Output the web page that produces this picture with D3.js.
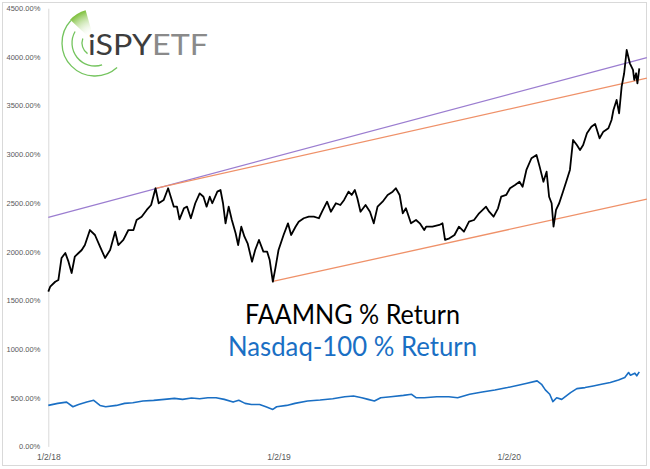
<!DOCTYPE html>
<html>
<head>
<meta charset="utf-8">
<script src="https://cdn.jsdelivr.net/npm/d3@7"></script>
<style>
  body { margin: 0; background: #fff; }
  text { font-family: "Liberation Sans", Arial, sans-serif; }
</style>
</head>
<body>
<svg id="chart" width="650" height="469"></svg>
<script>
// FAAMNG cumulative % return
const faamngDates = [
  "2018-01-02","2018-01-05","2018-01-13","2018-01-18","2018-01-23","2018-01-29","2018-02-03","2018-02-08",
  "2018-02-13","2018-02-19","2018-02-24","2018-03-01","2018-03-09","2018-03-17","2018-03-25","2018-04-02",
  "2018-04-10","2018-04-18","2018-04-23","2018-05-01","2018-05-09","2018-05-17","2018-05-22","2018-05-30",
  "2018-06-07","2018-06-14","2018-06-21","2018-06-26","2018-07-04","2018-07-11","2018-07-20","2018-07-25",
  "2018-07-29","2018-08-05","2018-08-10","2018-08-16","2018-08-23","2018-08-30","2018-09-05","2018-09-10",
  "2018-09-15","2018-09-19","2018-09-27","2018-10-02","2018-10-06","2018-10-10","2018-10-15","2018-10-20",
  "2018-10-26","2018-10-30","2018-11-04","2018-11-09","2018-11-14","2018-11-21","2018-11-26","2018-12-02",
  "2018-12-09","2018-12-15","2018-12-19","2018-12-24","2018-12-28","2019-01-02","2019-01-10","2019-01-17",
  "2019-01-22","2019-01-29","2019-02-03","2019-02-11","2019-02-19","2019-02-27","2019-03-07","2019-03-12",
  "2019-03-20","2019-03-26","2019-04-03","2019-04-10","2019-04-16","2019-04-23","2019-04-28","2019-05-03",
  "2019-05-07","2019-05-12","2019-05-20","2019-05-27","2019-06-02","2019-06-08","2019-06-16","2019-06-24",
  "2019-07-02","2019-07-07","2019-07-13","2019-07-18","2019-07-23","2019-07-31","2019-08-08","2019-08-14",
  "2019-08-21","2019-08-24","2019-09-03","2019-09-14","2019-09-19","2019-09-23","2019-09-30","2019-10-08",
  "2019-10-15","2019-10-23","2019-10-31","2019-11-08","2019-11-16","2019-11-27","2019-12-02","2019-12-09",
  "2019-12-16","2019-12-21","2019-12-29","2020-01-04","2020-01-12","2020-01-19","2020-01-24","2020-01-30",
  "2020-02-07","2020-02-15","2020-02-20","2020-02-26","2020-03-02","2020-03-06","2020-03-10","2020-03-13",
  "2020-03-17","2020-03-22","2020-03-28","2020-04-03","2020-04-08","2020-04-13","2020-04-19","2020-04-24",
  "2020-04-29","2020-05-05","2020-05-12","2020-05-18","2020-05-25","2020-05-31","2020-06-08","2020-06-13",
  "2020-06-16","2020-06-21","2020-06-25","2020-06-29","2020-07-03","2020-07-07","2020-07-12","2020-07-17",
  "2020-07-19","2020-07-22","2020-07-24","2020-07-27"
];
const faamngValues = [
  1589,1640,1691,1709,1935,1986,1897,1781,
  1948,1986,2017,2068,2222,2171,2051,1935,
  2017,2205,2068,2120,2222,2222,2325,2359,
  2428,2479,2651,2497,2531,2651,2462,2462,
  2332,2445,2462,2343,2497,2599,2564,2462,
  2564,2497,2616,2633,2497,2291,2462,2325,
  2189,2068,2256,2154,2086,1897,2017,2120,
  2000,2000,1914,1691,1829,2017,2171,2291,
  2171,2256,2308,2343,2359,2359,2343,2410,
  2513,2410,2497,2479,2531,2616,2582,2633,
  2548,2410,2479,2410,2291,2462,2513,2582,
  2616,2651,2582,2394,2445,2291,2325,2291,
  2222,2256,2256,2274,2291,2120,2137,2171,
  2256,2205,2308,2325,2394,2462,2410,2359,
  2445,2564,2582,2651,2685,2718,2667,2839,
  2959,2993,2873,2718,2821,2564,2497,2256,
  2428,2497,2616,2736,2839,3147,3095,3044,
  3095,3216,3283,3311,3164,3232,3267,3352,
  3455,3558,3421,3694,3832,4071,3934,3866,
  3763,3832,3729,3883
];

// Nasdaq-100 cumulative % return
const ndxDates = [
  "2018-01-02","2018-01-17","2018-01-31","2018-02-10","2018-02-19","2018-03-04","2018-03-15","2018-03-25",
  "2018-04-03","2018-04-20","2018-05-03","2018-05-16","2018-06-01","2018-06-18","2018-07-05","2018-07-21",
  "2018-08-03","2018-08-17","2018-08-30","2018-09-12","2018-09-25","2018-10-08","2018-10-22","2018-10-31",
  "2018-11-10","2018-11-20","2018-12-03","2018-12-13","2018-12-24","2018-12-30","2019-01-15","2019-01-28",
  "2019-02-17","2019-03-09","2019-03-29","2019-04-17","2019-05-01","2019-05-14","2019-05-24","2019-06-03",
  "2019-06-13","2019-06-29","2019-07-19","2019-08-01","2019-08-08","2019-08-21","2019-09-10","2019-09-29",
  "2019-10-13","2019-11-01","2019-11-21","2019-12-11","2019-12-31","2020-01-17","2020-01-31","2020-02-16",
  "2020-02-23","2020-02-29","2020-03-07","2020-03-12","2020-03-18","2020-03-26","2020-04-09","2020-04-19",
  "2020-05-02","2020-05-15","2020-05-28","2020-06-11","2020-06-24","2020-07-04","2020-07-10","2020-07-13",
  "2020-07-20","2020-07-23","2020-07-27"
];
const ndxValues = [
  421,442,455,407,431,455,473,421,
  407,421,442,448,466,473,483,493,
  483,497,490,500,500,483,455,473,
  442,431,431,407,380,407,421,442,
  466,476,490,510,517,500,483,466,
  500,510,524,535,500,500,510,510,
  500,535,559,580,604,628,649,673,
  638,580,535,460,500,483,552,593,
  604,621,638,656,683,707,759,731,
  752,725,766
];

// channel lines drawn on the chart
const trendStartDates  = ["2018-01-02", "2018-06-21", "2018-12-24"];
const trendStartValues = [2353, 2649, 1694];
const trendEndDates    = ["2020-08-08", "2020-08-08", "2020-08-08"];
const trendEndValues   = [3992, 3782, 2539];
const trendColors = ["#9b7dd0", "#ef9169", "#ef9169"];

const yTicks = [0, 500, 1000, 1500, 2000, 2500, 3000, 3500, 4000, 4500];
const xTickDates = ["2018-01-02", "2019-01-02", "2020-01-02"];

const parse = d3.timeParse("%Y-%m-%d");
const svg = d3.select("#chart");

// outer chart frame
svg.append("rect")
  .attr("x", 2.5).attr("y", 2.5)
  .attr("width", 644).attr("height", 463)
  .attr("fill", "#fff")
  .attr("stroke", "#d9d9d9");

let x = d3.scaleTime()
  .domain([parse("2018-01-02"), parse("2020-07-27")])
  .range([48.3, 639.3]);
let y = d3.scaleLinear().domain([0, 4500]).range([446.4, 8.2]);

// y axis
let yAxis = svg.append("g")
  .attr("transform", "translate(48.3,0)")
  .call(d3.axisLeft(y).tickValues(yTicks).tickSize(0).tickSizeOuter(0).tickPadding(8)
    .tickFormat(d => d.toFixed(2) + "%"));
yAxis.select(".domain").attr("stroke", "#d9d9d9");
yAxis.selectAll("text").attr("fill", "#595959").style("font-size", "7.5px");

// x axis (labels only)
let xAxis = svg.append("g")
  .attr("transform", "translate(0,446.4)")
  .call(d3.axisBottom(x).tickValues(xTickDates.map(parse)).tickSize(0).tickPadding(7.5)
    .tickFormat(d3.timeFormat("%-m/%-d/%y")));
xAxis.select(".domain").remove();
xAxis.selectAll("text").attr("fill", "#595959").style("font-size", "8.5px");

// trend / channel lines
svg.selectAll(".trend")
  .data(trendStartDates)
  .enter()
  .append("line")
  .attr("class", "trend")
  .attr("x1", (d, i) => x(parse(d)))
  .attr("y1", (d, i) => y(trendStartValues[i]))
  .attr("x2", (d, i) => x(parse(trendEndDates[i])))
  .attr("y2", (d, i) => y(trendEndValues[i]))
  .attr("stroke", (d, i) => trendColors[i])
  .attr("stroke-width", 1.3);

let line = d3.line()
  .x(d => x(parse(d[0])))
  .y(d => y(d[1]));

svg.append("path")
  .datum(ndxDates.map((d, i) => [d, ndxValues[i]]))
  .attr("d", line)
  .attr("fill", "none")
  .attr("stroke", "#1a6fc4")
  .attr("stroke-width", 1.6)
  .attr("stroke-linejoin", "round");

svg.append("path")
  .datum(faamngDates.map((d, i) => [d, faamngValues[i]]))
  .attr("d", line)
  .attr("fill", "none")
  .attr("stroke", "#000")
  .attr("stroke-width", 1.8)
  .attr("stroke-linejoin", "round");

// series captions
svg.append("text")
  .attr("x", 352.5).attr("y", 324)
  .attr("text-anchor", "middle")
  .attr("textLength", 215).attr("lengthAdjust", "spacingAndGlyphs")
  .style("font-family", "Lato, 'Open Sans', sans-serif")
  .style("font-size", "26px")
  .attr("fill", "#000")
  .text("FAAMNG % Return");

svg.append("text")
  .attr("x", 352.5).attr("y", 356)
  .attr("text-anchor", "middle")
  .attr("textLength", 249).attr("lengthAdjust", "spacingAndGlyphs")
  .style("font-family", "Lato, 'Open Sans', sans-serif")
  .style("font-size", "26px")
  .attr("fill", "#1a6fc4")
  .text("Nasdaq-100 % Return");

// logo
let logo = svg.append("g");
let cx = 95, cy = 43;
let deg = Math.PI / 180;

let grad = svg.append("defs").append("radialGradient")
  .attr("id", "sweep")
  .attr("gradientUnits", "userSpaceOnUse")
  .attr("cx", cx).attr("cy", cy).attr("r", 34);
grad.append("stop").attr("offset", "0.25").attr("stop-color", "#ffffff").attr("stop-opacity", 0);
grad.append("stop").attr("offset", "1").attr("stop-color", "#7dbf3a");

let wedge = d3.path();
wedge.moveTo(cx, cy);
wedge.arc(cx, cy, 34, -137 * deg, -106 * deg, false);
wedge.closePath();
logo.append("path").attr("d", wedge.toString()).attr("fill", "url(#sweep)");

[[33, -137, 48], [23, -150, 72], [13, -160, 125]].forEach(a => {
  let p = d3.path();
  p.arc(cx, cy, a[0], a[1] * deg, a[2] * deg, true);
  logo.append("path").attr("d", p.toString())
    .attr("fill", "none").attr("stroke", "#74c45e").attr("stroke-width", 1.3);
});

let logoText = logo.append("text")
  .attr("x", 88).attr("y", 55)
  .attr("textLength", 120).attr("lengthAdjust", "spacingAndGlyphs")
  .style("font-family", "Lato, sans-serif")
  .style("font-size", "28px");
logoText.append("tspan").attr("fill", "#3d3d3d").text("iSPY");
logoText.append("tspan").attr("fill", "#8a8a8a").text("ETF");
</script>
</body>
</html>
